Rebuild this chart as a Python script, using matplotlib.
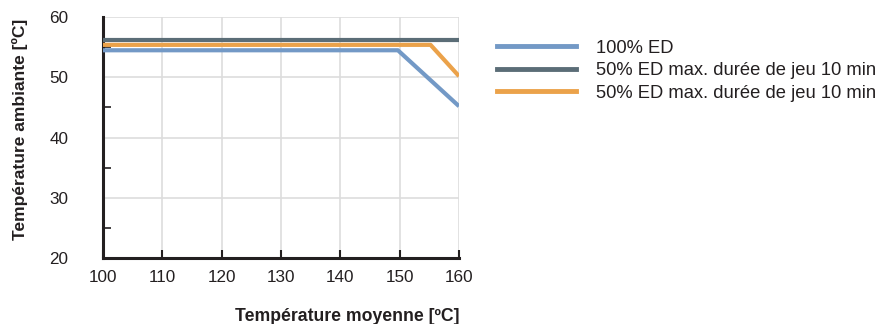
import matplotlib
matplotlib.use("Agg")
import matplotlib.pyplot as plt
from matplotlib.ticker import MultipleLocator

plt.rcParams['font.family'] = ['Liberation Sans', 'DejaVu Sans']

x_blue = [100, 149.7, 160]
y_blue = [54.5, 54.5, 45.2]
x_grey = [100, 160]
y_grey = [56.2, 56.2]
x_orange = [100, 155.2, 160]
y_orange = [55.4, 55.4, 50.2]
labels = ["100% ED", "50% ED max. durée de jeu 10 min", "50% ED max. durée de jeu 10 min"]
colors = ["#7399c6", "#5b6d77", "#eba24a"]

fig = plt.figure(figsize=(8.78, 3.24), dpi=100)
ax = fig.add_axes([0.1173, 0.204, 0.4055, 0.743])

ax.plot(x_blue, y_blue, color=colors[0], lw=3, solid_capstyle='butt', zorder=3)
ax.plot(x_grey, y_grey, color=colors[1], lw=3, solid_capstyle='butt', zorder=3)
ax.plot(x_orange, y_orange, color=colors[2], lw=3, solid_capstyle='butt', zorder=3)

ax.set_xlim(100, 160)
ax.set_ylim(20, 60)
ax.xaxis.set_major_locator(MultipleLocator(10))
ax.yaxis.set_major_locator(MultipleLocator(10))
ax.yaxis.set_minor_locator(MultipleLocator(5))
ax.grid(True, which='major', color='#dddddd', lw=1.2, zorder=0)
for s in ['top', 'right']:
    ax.spines[s].set_visible(False)
for s in ['left', 'bottom']:
    ax.spines[s].set_linewidth(2.2)
    ax.spines[s].set_color('#231f20')
ax.tick_params(axis='both', which='both', direction='in', color='#231f20', labelsize=12.3,
               labelcolor='#231f20')
ax.tick_params(axis='x', length=6, width=1.5, pad=9)
ax.tick_params(axis='y', which='major', length=0, pad=25)
ax.tick_params(axis='y', which='minor', length=6, width=1.2)
ax.set_yticks([20, 30, 40, 50, 60])
ax.set_ylabel("Température ambiante [ºC]", fontsize=12.5, fontweight='bold',
              color='#231f20')
ax.yaxis.set_label_coords(-0.212, 0.535)
ax.set_xlabel("Température moyenne [ºC]", fontsize=12.7, fontweight='bold', labelpad=16,
              loc='right', color='#231f20')

handles = [plt.Line2D([], [], color=c, lw=3.5) for c in colors]
fig.legend(handles, labels, loc='upper left', bbox_to_anchor=(0.566, 0.878), frameon=False,
           fontsize=13.2, handlelength=4.3, handletextpad=1.1, labelspacing=0.3,
           borderaxespad=0, borderpad=0, labelcolor='#231f20')

fig.savefig("out.png", dpi=100)
